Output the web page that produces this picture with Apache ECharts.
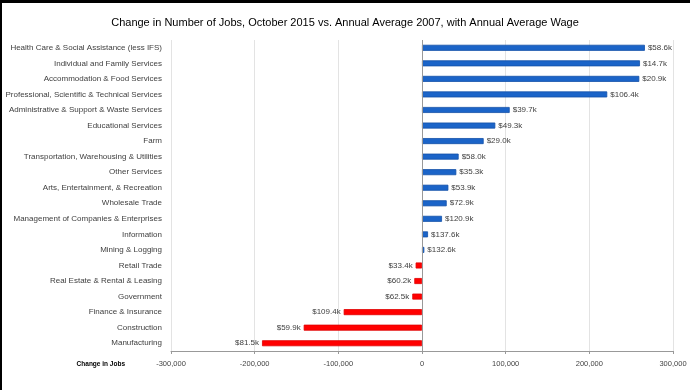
<!DOCTYPE html>
<html><head><meta charset="utf-8">
<script src="https://cdn.jsdelivr.net/npm/echarts@6/dist/echarts.min.js"></script>
<style>html,body{margin:0;padding:0;background:#fff}#c{width:690px;height:390px}</style>
</head><body><div id="c"></div>
<script>
var categories = ["Health Care & Social Assistance (less IFS)","Individual and Family Services","Accommodation & Food Services","Professional, Scientific & Technical Services","Administrative & Support & Waste Services","Educational Services","Farm","Transportation, Warehousing & Utilities","Other Services","Arts, Entertainment, & Recreation","Wholesale Trade","Management of Companies & Enterprises","Information","Mining & Logging","Retail Trade","Real Estate & Rental & Leasing","Government","Finance & Insurance","Construction","Manufacturing"];
var jobChange = [266400,260500,259700,221400,104800,87600,73700,43800,41000,31500,29500,23900,7200,2800,-7600,-9200,-11600,-93600,-141400,-191200];
var wageLabels = ["$58.6k","$14.7k","$20.9k","$106.4k","$39.7k","$49.3k","$29.0k","$58.0k","$35.3k","$53.9k","$72.9k","$120.9k","$137.6k","$132.6k","$33.4k","$60.2k","$62.5k","$109.4k","$59.9k","$81.5k"];
var xTicks = [-300000,-200000,-100000,0,100000,200000,300000];

var font = '"Liberation Sans","Arial",sans-serif';
var chart = echarts.init(document.getElementById('c'));
var data = jobChange.map(function(v,i){
  var pos = v >= 0;
  return {value:v,
    itemStyle:{color: pos ? '#1b64c8' : '#ff0000', borderColor: pos ? '#1450a8' : '#e00000', borderWidth:0.8},
    label:{show:true, position: pos ? 'right' : 'left', formatter: wageLabels[i]}};
});
chart.setOption({
  animation:false,
  title:{text:'Change in Number of Jobs, October 2015 vs. Annual Average 2007, with Annual Average Wage',
    left:'center', top:12, textStyle:{fontFamily:font, fontSize:11, fontWeight:'normal', color:'#000'}},
  grid:{left:171, right:17, top:40, bottom:39, containLabel:false, outerBoundsMode:'none'},
  xAxis:{type:'value', min:-300000, max:300000, interval:100000,
    name:'Change in Jobs', nameLocation:'start', nameGap:46,
    nameTextStyle:{fontFamily:font, fontSize:6.5, fontWeight:'bold', color:'#000', verticalAlign:'top', padding:[10,0,0,0]},
    axisLine:{show:true, lineStyle:{color:'#999'}}, axisTick:{show:true, length:3, lineStyle:{color:'#999'}},
    axisLabel:{fontFamily:font, fontSize:7.5, color:'#444', margin:9, formatter:function(v){return echarts.format.addCommas(v);}},
    splitLine:{show:true, lineStyle:{color:'#e3e3e3'}}},
  yAxis:{type:'category', data:categories, inverse:true,
    axisLine:{show:false}, axisTick:{show:false},
    axisLabel:{fontFamily:font, fontSize:8, color:'#404040', margin:9}},
  series:[{type:'bar', data:data, barWidth:6,
    label:{fontFamily:font, fontSize:8, color:'#404040', distance:3}},
    {type:'line', markLine:{silent:true, symbol:'none', label:{show:false}, lineStyle:{color:'#999', type:'solid', width:1}, data:[{xAxis:0}]}, data:[]}],
  graphic:[
    {type:'rect', left:0, top:0, shape:{width:690, height:3}, style:{fill:'#000'}},
    {type:'rect', left:0, top:0, shape:{width:2, height:390}, style:{fill:'#000'}}
  ]
});
</script></body></html>
